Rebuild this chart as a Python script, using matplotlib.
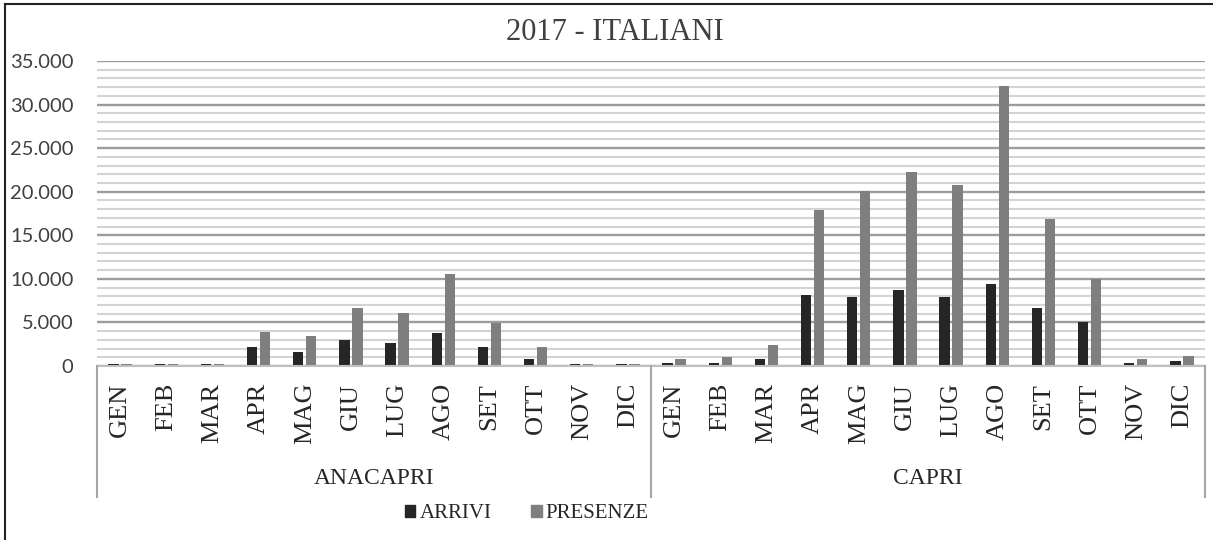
import matplotlib
matplotlib.use("Agg")
import matplotlib.pyplot as plt
from matplotlib.lines import Line2D
from matplotlib.patches import Patch
import numpy as np

# ---- data ----
title = "2017 - ITALIANI"
months = ["GEN", "FEB", "MAR", "APR", "MAG", "GIU", "LUG", "AGO", "SET", "OTT", "NOV", "DIC"]
groups = ["ANACAPRI", "CAPRI"]
series_names = ["ARRIVI", "PRESENZE"]

anacapri_arrivi = [250, 250, 250, 2150, 1600, 2950, 2650, 3750, 2150, 850, 250, 250]
anacapri_presenze = [180, 180, 180, 3950, 3450, 6600, 6050, 10550, 4950, 2150, 180, 180]
capri_arrivi = [300, 300, 800, 8200, 7900, 8700, 7950, 9450, 6600, 5000, 300, 550]
capri_presenze = [800, 1050, 2400, 17900, 20050, 22300, 20750, 32100, 16900, 9950, 800, 1100]

y_ticks = [0, 5000, 10000, 15000, 20000, 25000, 30000, 35000]
y_tick_labels = ["0", "5.000", "10.000", "15.000", "20.000", "25.000", "30.000", "35.000"]
y_minor_step = 1000

# ---- figure ----
W, H = 1213, 540
fig = plt.figure(figsize=(W / 100, H / 100), dpi=100)
fig.patch.set_facecolor("white")

left_px, right_px, top_px, base_px = 97, 1205, 61, 366
ax = fig.add_axes([left_px / W, (H - base_px) / H, (right_px - left_px) / W, (base_px - top_px) / H])

arrivi = anacapri_arrivi + capri_arrivi
presenze = anacapri_presenze + capri_presenze
labels = months + months
x = np.arange(len(labels))

c_arr = "#262626"
c_pre = "#7f7f7f"
bw = 0.225
off = 0.142

ax.set_ylim(0, y_ticks[-1])
ax.set_xlim(-0.5, len(labels) - 0.5)

# grid
for v in np.arange(0, y_ticks[-1] + 1, y_minor_step):
    if v % 5000 == 0:
        ax.axhline(v, color="#9c9c9c", lw=1.7, zorder=1)
    else:
        ax.axhline(v, color="#d4d4d4", lw=1.5, zorder=1)

ax.bar(x - off, arrivi, width=bw, color=c_arr, zorder=3, label=series_names[0])
ax.bar(x + off, presenze, width=bw, color=c_pre, zorder=3, label=series_names[1])

for s in ["top", "right", "left"]:
    ax.spines[s].set_visible(False)
ax.spines["bottom"].set_color("#bfbfbf")
ax.spines["bottom"].set_linewidth(1.5)
ax.spines["bottom"].set_zorder(4)

ax.set_yticks(y_ticks)
ax.set_yticklabels(y_tick_labels, fontfamily="Lato", fontsize=14.5, color="#404040")
ax.tick_params(axis="y", length=0, pad=17)

ax.set_xticks(x)
ax.set_xticklabels(labels, rotation=90, fontfamily="Liberation Serif", fontsize=19, color="#262626")
ax.tick_params(axis="x", length=0, pad=12)
for t in ax.get_xticklabels():
    t.set_va("top")
    t.set_ha("center")

# group dividers and labels
div_bottom = 497
for xp in [left_px, (left_px + right_px) / 2, right_px]:
    fig.add_artist(Line2D([xp / W, xp / W], [(H - base_px) / H, (H - div_bottom) / H],
                          color="#a6a6a6", lw=1.5))
for gi, g in enumerate(groups):
    cx = left_px + (right_px - left_px) * (gi + 0.5) / len(groups)
    fig.text(cx / W, (H - 478) / H, g, ha="center", va="center",
             fontfamily="Liberation Serif", fontsize=17, color="#262626")

# title
fig.text(615 / W, (H - 33) / H, title, ha="center", va="center",
         fontfamily="Liberation Serif", fontsize=22, color="#404040")

# legend
handles = [Patch(color=c_arr, label=series_names[0]), Patch(color=c_pre, label=series_names[1])]
leg = fig.legend(handles=handles, loc="center", bbox_to_anchor=(527 / W, (H - 514) / H),
                 ncol=2, frameon=False, handlelength=0.5, handleheight=0.5,
                 handletextpad=0.2, columnspacing=1.9, borderaxespad=0, borderpad=0,
                 prop={"family": "Liberation Serif", "size": 15})
for t in leg.get_texts():
    t.set_color("#262626")

# outer border (left and top visible)
fig.add_artist(Line2D([5 / W, 5 / W], [0, (H - 4) / H], color="#222222", lw=1.5))
fig.add_artist(Line2D([5 / W, 1], [(H - 4) / H, (H - 4) / H], color="#222222", lw=1.5))

fig.savefig("out.png", dpi=100, facecolor="white")
